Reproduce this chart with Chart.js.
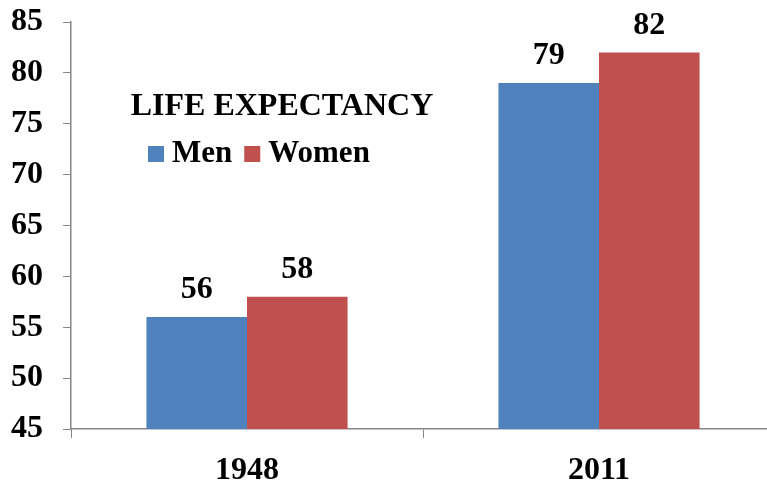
<!DOCTYPE html>
<html>
<head>
<meta charset="utf-8">
<script src="https://cdn.jsdelivr.net/npm/chart.js"></script>
<style>
  html, body { margin: 0; padding: 0; background: #fff; overflow: hidden; }
  #wrap { width: 775px; height: 486px; }
</style>
</head>
<body>
<div id="wrap"><canvas id="chart"></canvas></div>
<script>
const years = ['1948', '2011'];
const men = [56, 79];
const women = [58, 82];
const seriesNames = ['Men', 'Women'];
const seriesColors = ['#4F81BD', '#C0504D'];
const chartTitle = 'LIFE EXPECTANCY';

const serif = '"Liberation Serif", "Times New Roman", serif';
const axisGray = '#868686';

// value labels on top of each bar
const barLabels = {
    id: 'barLabels',
    afterDatasetsDraw(chart) {
        const ctx = chart.ctx;
        ctx.save();
        ctx.font = 'bold 32px ' + serif;
        ctx.fillStyle = '#000';
        ctx.textAlign = 'center';
        ctx.textBaseline = 'alphabetic';
        chart.data.datasets.forEach((ds, i) => {
            chart.getDatasetMeta(i).data.forEach((bar, j) => {
                ctx.fillText(ds.data[j], bar.x, bar.y - 19);
            });
        });
        ctx.restore();
    }
};

// title and legend sit inside the plot, top-left
const innerLegend = {
    id: 'innerLegend',
    afterDraw(chart) {
        const ctx = chart.ctx;
        ctx.save();
        ctx.fillStyle = '#000';
        ctx.font = 'bold 32px ' + serif;
        ctx.textAlign = 'center';
        ctx.textBaseline = 'alphabetic';
        ctx.fillText(chartTitle, 282, 115);

        ctx.font = 'bold 31px ' + serif;
        ctx.textAlign = 'left';
        let x = 148;
        chart.data.datasets.forEach((ds) => {
            ctx.fillStyle = ds.backgroundColor;
            ctx.fillRect(x, 146, 16, 16);
            x += 24;
            ctx.fillStyle = '#000';
            ctx.fillText(ds.label, x, 162);
            x += ctx.measureText(ds.label).width + 12;
        });
        ctx.restore();
    }
};

new Chart(document.getElementById('chart'), {
    type: 'bar',
    data: {
        labels: years,
        datasets: [
            { label: seriesNames[0], data: men, backgroundColor: seriesColors[0] },
            { label: seriesNames[1], data: women, backgroundColor: seriesColors[1] }
        ]
    },
    options: {
        responsive: true,
        maintainAspectRatio: false,
        animation: false,
        categoryPercentage: 0.5714,
        barPercentage: 1,
        layout: { padding: { top: 22, left: -9, right: 0, bottom: 0 } },
        plugins: {
            legend: { display: false },
            title: { display: false },
            tooltip: { enabled: false }
        },
        scales: {
            x: {
                grid: { drawOnChartArea: false, color: axisGray, tickLength: 9, offset: true },
                border: { color: axisGray, width: 1.5 },
                ticks: { color: '#000', font: { family: serif, size: 32, weight: 'bold' }, padding: 14 },
                afterFit(scale) { scale.height = 57; scale.paddingLeft = 0; scale.paddingRight = 0; }
            },
            y: {
                min: 45,
                max: 85,
                grid: { drawOnChartArea: false, color: axisGray, tickLength: 8 },
                border: { color: axisGray, width: 1.5 },
                ticks: { stepSize: 5, color: '#000', font: { family: serif, size: 32, weight: 'bold' }, padding: 20 },
                afterFit(scale) { scale.paddingTop = 0; scale.paddingBottom = 0; }
            }
        }
    },
    plugins: [barLabels, innerLegend]
});
</script>
</body>
</html>
